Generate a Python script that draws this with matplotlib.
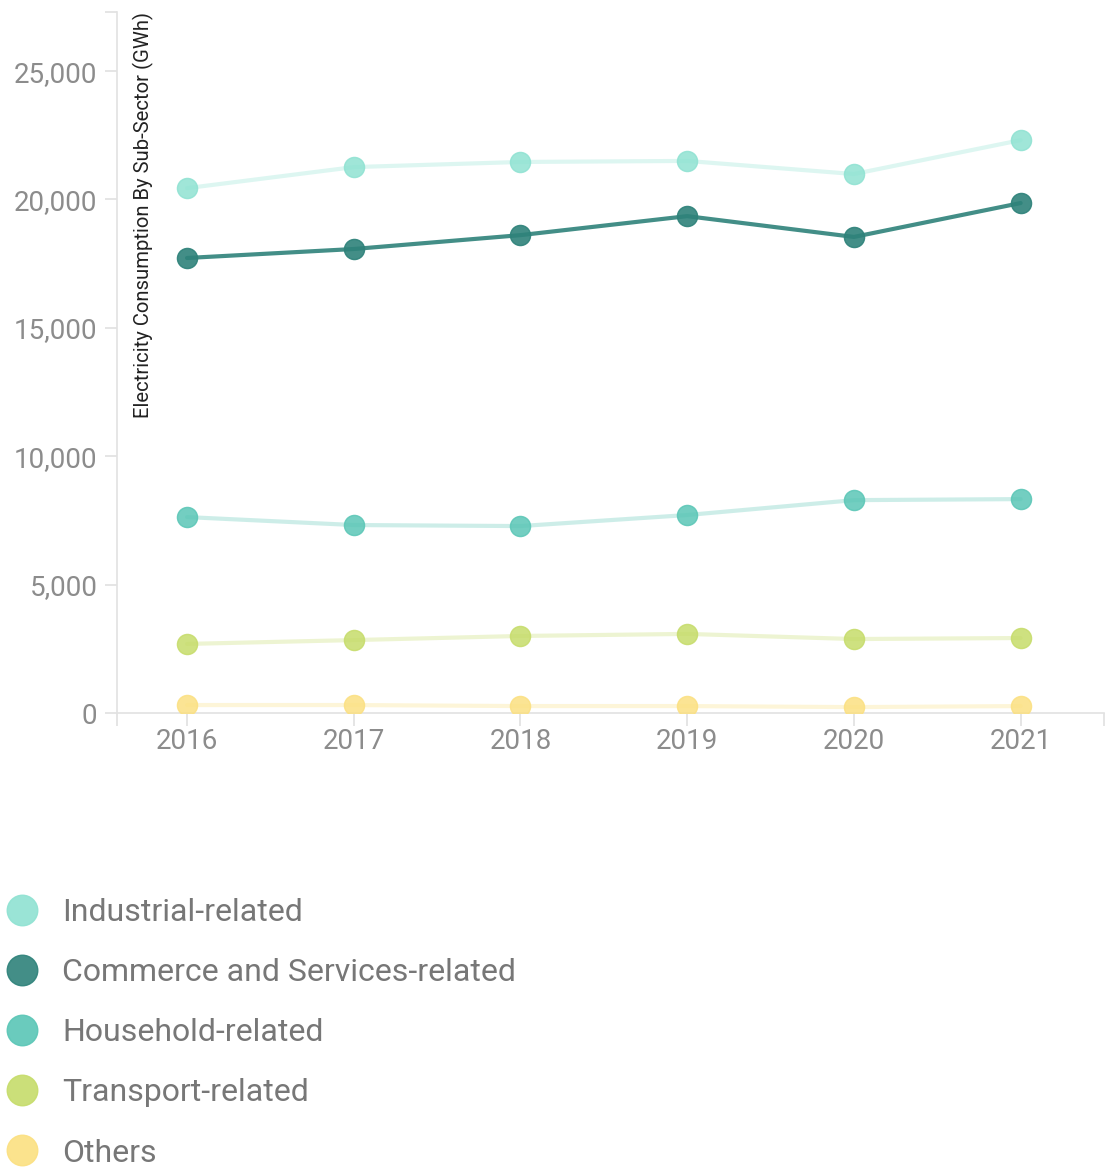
import matplotlib
matplotlib.use("Agg")
import matplotlib.pyplot as plt
from matplotlib.lines import Line2D
from matplotlib.ticker import FuncFormatter, FixedLocator

plt.rcParams['font.family'] = ['Roboto', 'DejaVu Sans']

years = [2016, 2017, 2018, 2019, 2020, 2021]
industrial = [20440, 21260, 21460, 21500, 20990, 22310]
commerce = [17720, 18070, 18610, 19350, 18540, 19860]
household = [7630, 7320, 7280, 7710, 8290, 8330]
transport = [2690, 2840, 3000, 3080, 2880, 2920]
others = [310, 310, 270, 270, 230, 270]

labels = ["Industrial-related", "Commerce and Services-related",
          "Household-related", "Transport-related", "Others"]
series = [industrial, commerce, household, transport, others]
colors = ["#8fe2d2", "#2e827a", "#5ac6b6", "#c6dc6a", "#fbe081"]
line_alpha = [0.3, 0.9, 0.3, 0.3, 0.3]
y_ticks = [0, 5000, 10000, 15000, 20000, 25000]
y_label = "Electricity Consumption By Sub-Sector (GWh)"

W, H = 1106, 1167
fig = plt.figure(figsize=(W / 100, H / 100), dpi=100)
ax = fig.add_axes([117 / W, 1 - 713 / H, (1104 - 117) / W, (713 - 12) / H])

for vals, col, la, lab in zip(series, colors, line_alpha, labels):
    ax.plot(years, vals, color=col, alpha=la, lw=3.0, zorder=2, solid_capstyle='round')
    ax.plot(years, vals, linestyle='none', marker='o', markersize=14.5,
            markerfacecolor=col, markeredgecolor=col, alpha=0.9 if la > 0.5 else 0.85,
            zorder=3)

ax.set_xlim(2015.58, 2021.5)
ax.set_ylim(0, 27300)

for s in ['top', 'right']:
    ax.spines[s].set_visible(False)
for s in ['left', 'bottom']:
    ax.spines[s].set_color('#e2e2e2')
    ax.spines[s].set_linewidth(1.2)

ax.set_xticks(years)
ax.set_xticklabels([str(y) for y in years])
ax.xaxis.set_minor_locator(FixedLocator([2015.58, 2021.5]))
ax.set_yticks(y_ticks)
ax.yaxis.set_major_formatter(FuncFormatter(lambda v, p: f"{int(v):,}"))
ax.yaxis.set_minor_locator(FixedLocator([27300]))
ax.tick_params(axis='both', which='both', colors='#e0e0e0', length=9, width=1.2,
               labelcolor='#8c8c8c', labelsize=20)
ax.tick_params(axis='y', pad=5)
ax.tick_params(axis='x', pad=2)

ax.text(0.016, 1.0, y_label, transform=ax.transAxes, rotation=90,
        ha='left', va='top', fontsize=14.6, color='#222222')

handles = [Line2D([0], [0], linestyle='none', marker='o', markersize=22,
                  markerfacecolor=c, markeredgecolor=c, alpha=0.9) for c in colors]
leg = fig.legend(handles, labels, loc='upper left',
                 bbox_to_anchor=(6 / W, 1 - 898 / H), frameon=False,
                 fontsize=23, labelcolor='#777777', handlelength=1.0,
                 handletextpad=0.75, labelspacing=0.975, borderaxespad=0,
                 borderpad=0)

fig.savefig("out.png", dpi=100)
